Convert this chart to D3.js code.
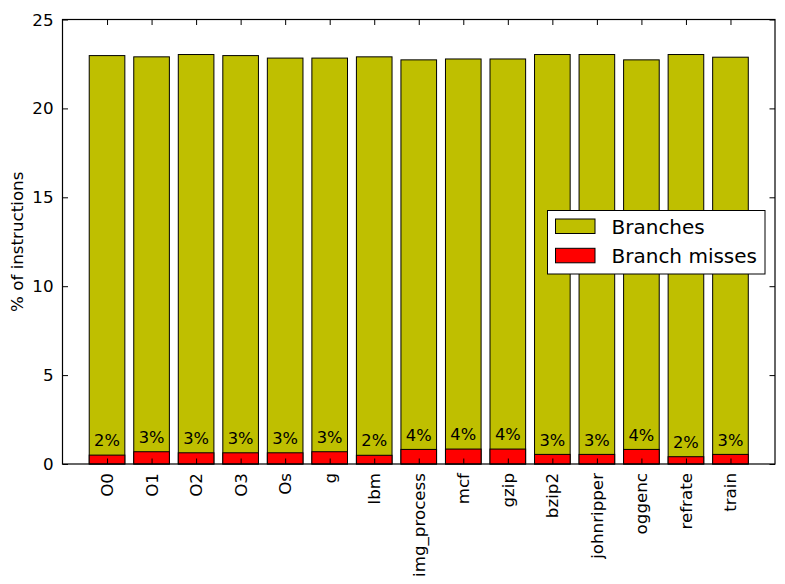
<!DOCTYPE html>
<html>
<head>
<meta charset="utf-8">
<script src="https://cdn.jsdelivr.net/npm/d3@7"></script>
<style>
  body { margin: 0; background: #fff; }
  svg { display: block; }
  text { font-family: "DejaVu Sans", sans-serif; fill: #000; }
</style>
</head>
<body>
<svg id="chart" width="785" height="584"></svg>
<script>
const categories = ["O0","O1","O2","O3","Os","g","lbm","img_process","mcf","gzip","bzip2","johnripper","oggenc","refrate","train"];
const branches = [22.97, 22.90, 23.03, 22.97, 22.83, 22.83, 22.90, 22.73, 22.78, 22.78, 23.03, 23.03, 22.73, 23.03, 22.88];
const branchMisses = [0.50, 0.69, 0.63, 0.63, 0.63, 0.69, 0.49, 0.82, 0.84, 0.84, 0.54, 0.54, 0.82, 0.41, 0.54];
const missLabels = ["2%","3%","3%","3%","3%","3%","2%","4%","4%","4%","3%","3%","4%","2%","3%"];
const yTicks = [0, 5, 10, 15, 20, 25];
const legendItems = [{name: "Branches", color: "#bfbf00"}, {name: "Branch misses", color: "#ff0000"}];

const L = 62.5, R = 775, T = 19.5, B = 464;
const svg = d3.select("#chart");
const x = d3.scaleLinear().domain([0, categories.length + 1]).range([L, R]);
const y = d3.scaleLinear().domain([0, 25]).range([B, T]);
const barW = x(0.8) - x(0);

// Branches bars
svg.append("g").selectAll("rect").data(branches).join("rect")
  .attr("x", (d, i) => x(i + 1) - barW / 2)
  .attr("y", d => y(d))
  .attr("width", barW)
  .attr("height", d => y(0) - y(d))
  .attr("fill", legendItems[0].color)
  .attr("stroke", "#000").attr("stroke-width", 1);

// Branch misses bars
svg.append("g").selectAll("rect").data(branchMisses).join("rect")
  .attr("x", (d, i) => x(i + 1) - barW / 2)
  .attr("y", d => y(d))
  .attr("width", barW)
  .attr("height", d => y(0) - y(d))
  .attr("fill", legendItems[1].color)
  .attr("stroke", "#000").attr("stroke-width", 1);

// Percent labels
svg.append("g").selectAll("text").data(branchMisses).join("text")
  .attr("x", (d, i) => x(i + 1))
  .attr("y", d => y(d + 0.5))
  .attr("text-anchor", "middle")
  .attr("font-size", 16.3)
  .text((d, i) => missLabels[i]);

// Axes (inward ticks, on all sides)
const tickLen = 5.5;
const xTickVals = categories.map((c, i) => i + 1);
const bottomAxis = d3.axisBottom(x).tickValues(xTickVals).tickSizeInner(-tickLen).tickSizeOuter(0).tickFormat("");
const topAxis = d3.axisTop(x).tickValues(xTickVals).tickSizeInner(-tickLen).tickSizeOuter(0).tickFormat("");
const leftAxis = d3.axisLeft(y).tickValues(yTicks).tickSizeInner(-tickLen).tickSizeOuter(0).tickFormat("");
const rightAxis = d3.axisRight(y).tickValues(yTicks).tickSizeInner(-tickLen).tickSizeOuter(0).tickFormat("");

function styleAxis(g) {
  g.select(".domain").remove();
  g.selectAll(".tick line").attr("stroke", "#000").attr("stroke-width", 1);
}
svg.append("g").attr("transform", `translate(0,${B})`).call(bottomAxis).call(styleAxis);
svg.append("g").attr("transform", `translate(0,${T})`).call(topAxis).call(styleAxis);
svg.append("g").attr("transform", `translate(${L},0)`).call(leftAxis).call(styleAxis);
svg.append("g").attr("transform", `translate(${R},0)`).call(rightAxis).call(styleAxis);

// Frame
svg.append("rect").attr("x", L).attr("y", T).attr("width", R - L).attr("height", B - T)
  .attr("fill", "none").attr("stroke", "#000").attr("stroke-width", 1.2);

// Y tick labels
svg.append("g").selectAll("text").data(yTicks).join("text")
  .attr("x", 53.5).attr("y", d => y(d)).attr("dy", "0.36em")
  .attr("text-anchor", "end").attr("font-size", 16.7)
  .text(d => d);

// X tick labels (rotated)
svg.append("g").selectAll("text").data(categories).join("text")
  .attr("transform", (d, i) => `translate(${x(i + 1)},${B + 9}) rotate(-90)`)
  .attr("dy", "0.36em")
  .attr("text-anchor", "end").attr("font-size", 16.7)
  .text(d => d);

// Y axis label
svg.append("text")
  .attr("transform", `translate(17,${(T + B) / 2}) rotate(-90)`)
  .attr("dy", "0.36em")
  .attr("text-anchor", "middle").attr("font-size", 16.7)
  .text("% of instructions");

// Legend
const lg = svg.append("g");
lg.append("rect").attr("x", 547.5).attr("y", 210.5).attr("width", 217.5).attr("height", 63.5)
  .attr("fill", "#fff").attr("stroke", "#000").attr("stroke-width", 1);
legendItems.forEach((it, i) => {
  lg.append("rect").attr("x", 555.5).attr("y", 219 + i * 29.3).attr("width", 39.5).attr("height", 14.5)
    .attr("fill", it.color).attr("stroke", "#000").attr("stroke-width", 1);
  lg.append("text").attr("x", 611.5).attr("y", 226.5 + i * 29.3).attr("dy", "0.36em")
    .attr("font-size", 20).text(it.name);
});
</script>
</body>
</html>
